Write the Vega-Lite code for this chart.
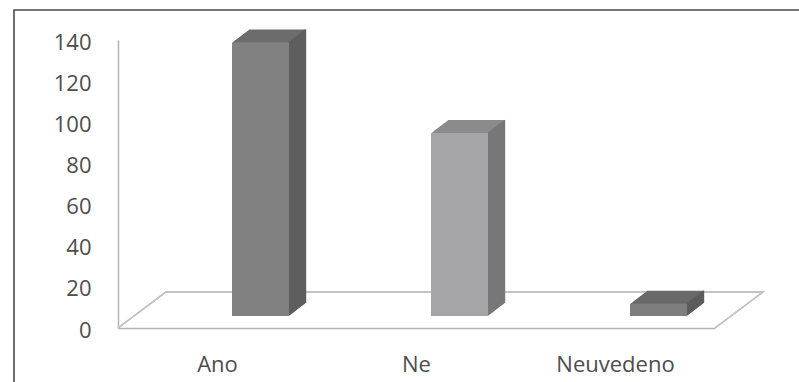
{
  "$schema": "https://vega.github.io/schema/vega-lite/v6.json",
  "width": 791,
  "height": 380,
  "autosize": {"type": "none"},
  "padding": {"left": 14, "top": 10, "right": -6, "bottom": -8},
  "background": "#ffffff",
  "config": {
    "view": {"stroke": "#4a4a4a", "strokeWidth": 1.6},
    "axis": {"labelFont": "Open Sans", "labelFontSize": 22, "labelColor": "#4d4d4d", "ticks": false, "grid": false, "domainColor": "#b4b4b4", "domainWidth": 1.5, "title": null}
  },
  "data": {"values": [
    {"cat": "Ano", "value": 133},
    {"cat": "Ne", "value": 89},
    {"cat": "Neuvedeno", "value": 6}
  ]},
  "encoding": {
    "x": {"field": "cat", "type": "nominal", "sort": null, "title": null,
      "scale": {"type": "band", "domain": ["Ano", "Ne", "Neuvedeno"], "range": [104, 701], "paddingInner": 0, "paddingOuter": 0},
      "axis": {"orient": "bottom", "offset": -62, "labelAngle": 0, "labelPadding": 26}},
    "y": {"field": "value", "type": "quantitative", "title": null,
      "scale": {"domain": [0, 140], "range": [318, 30], "nice": false},
      "axis": {"orient": "left", "offset": -104, "labelPadding": 27, "labelOffset": 2, "values": [0, 20, 40, 60, 80, 100, 120, 140]}}
  },
  "layer": [
    {
      "mark": {"type": "point", "shape": "M0,0L2,-1.5L26.875,-1.5L24.875,0", "size": 2304, "filled": false, "stroke": "#c2c2c2", "strokeWidth": 1.4, "opacity": 1},
      "encoding": {
        "x": {"datum": "Ano", "bandPosition": 0},
        "y": {"datum": 0}
      }
    },
    {
      "encoding": {"color": {"field": "cat", "type": "nominal", "legend": null, "scale": {"domain": ["Ano", "Ne", "Neuvedeno"], "range": ["#6d6d6d", "#8b8b8b", "#6a6a6a"]}}},
      "layer": [
        {"mark": {"type": "bar", "width": 57, "xOffset": 60, "x2Offset": 60, "yOffset": -25, "y2Offset": -25}},
        {"mark": {"type": "bar", "width": 57, "xOffset": 59, "x2Offset": 59, "yOffset": -24.24, "y2Offset": -24.24}},
        {"mark": {"type": "bar", "width": 57, "xOffset": 58, "x2Offset": 58, "yOffset": -23.47, "y2Offset": -23.47}},
        {"mark": {"type": "bar", "width": 57, "xOffset": 57, "x2Offset": 57, "yOffset": -22.71, "y2Offset": -22.71}},
        {"mark": {"type": "bar", "width": 57, "xOffset": 56, "x2Offset": 56, "yOffset": -21.94, "y2Offset": -21.94}},
        {"mark": {"type": "bar", "width": 57, "xOffset": 55, "x2Offset": 55, "yOffset": -21.18, "y2Offset": -21.18}},
        {"mark": {"type": "bar", "width": 57, "xOffset": 54, "x2Offset": 54, "yOffset": -20.41, "y2Offset": -20.41}},
        {"mark": {"type": "bar", "width": 57, "xOffset": 53, "x2Offset": 53, "yOffset": -19.65, "y2Offset": -19.65}},
        {"mark": {"type": "bar", "width": 57, "xOffset": 52, "x2Offset": 52, "yOffset": -18.88, "y2Offset": -18.88}},
        {"mark": {"type": "bar", "width": 57, "xOffset": 51, "x2Offset": 51, "yOffset": -18.12, "y2Offset": -18.12}},
        {"mark": {"type": "bar", "width": 57, "xOffset": 50, "x2Offset": 50, "yOffset": -17.35, "y2Offset": -17.35}},
        {"mark": {"type": "bar", "width": 57, "xOffset": 49, "x2Offset": 49, "yOffset": -16.59, "y2Offset": -16.59}},
        {"mark": {"type": "bar", "width": 57, "xOffset": 48, "x2Offset": 48, "yOffset": -15.82, "y2Offset": -15.82}},
        {"mark": {"type": "bar", "width": 57, "xOffset": 47, "x2Offset": 47, "yOffset": -15.06, "y2Offset": -15.06}},
        {"mark": {"type": "bar", "width": 57, "xOffset": 46, "x2Offset": 46, "yOffset": -14.29, "y2Offset": -14.29}},
        {"mark": {"type": "bar", "width": 57, "xOffset": 45, "x2Offset": 45, "yOffset": -13.53, "y2Offset": -13.53}},
        {"mark": {"type": "bar", "width": 57, "xOffset": 44, "x2Offset": 44, "yOffset": -12.76, "y2Offset": -12.76}}
      ]
    },
    {
      "encoding": {"color": {"field": "cat", "type": "nominal", "legend": null, "scale": {"domain": ["Ano", "Ne", "Neuvedeno"], "range": ["#5e5e5e", "#787878", "#5c5c5c"]}}},
      "layer": [
        {"mark": {"type": "bar", "width": 1.4, "xOffset": 88, "x2Offset": 88, "yOffset": -25, "y2Offset": -25}},
        {"mark": {"type": "bar", "width": 1.4, "xOffset": 87, "x2Offset": 87, "yOffset": -24.24, "y2Offset": -24.24}},
        {"mark": {"type": "bar", "width": 1.4, "xOffset": 86, "x2Offset": 86, "yOffset": -23.47, "y2Offset": -23.47}},
        {"mark": {"type": "bar", "width": 1.4, "xOffset": 85, "x2Offset": 85, "yOffset": -22.71, "y2Offset": -22.71}},
        {"mark": {"type": "bar", "width": 1.4, "xOffset": 84, "x2Offset": 84, "yOffset": -21.94, "y2Offset": -21.94}},
        {"mark": {"type": "bar", "width": 1.4, "xOffset": 83, "x2Offset": 83, "yOffset": -21.18, "y2Offset": -21.18}},
        {"mark": {"type": "bar", "width": 1.4, "xOffset": 82, "x2Offset": 82, "yOffset": -20.41, "y2Offset": -20.41}},
        {"mark": {"type": "bar", "width": 1.4, "xOffset": 81, "x2Offset": 81, "yOffset": -19.65, "y2Offset": -19.65}},
        {"mark": {"type": "bar", "width": 1.4, "xOffset": 80, "x2Offset": 80, "yOffset": -18.88, "y2Offset": -18.88}},
        {"mark": {"type": "bar", "width": 1.4, "xOffset": 79, "x2Offset": 79, "yOffset": -18.12, "y2Offset": -18.12}},
        {"mark": {"type": "bar", "width": 1.4, "xOffset": 78, "x2Offset": 78, "yOffset": -17.35, "y2Offset": -17.35}},
        {"mark": {"type": "bar", "width": 1.4, "xOffset": 77, "x2Offset": 77, "yOffset": -16.59, "y2Offset": -16.59}},
        {"mark": {"type": "bar", "width": 1.4, "xOffset": 76, "x2Offset": 76, "yOffset": -15.82, "y2Offset": -15.82}},
        {"mark": {"type": "bar", "width": 1.4, "xOffset": 75, "x2Offset": 75, "yOffset": -15.06, "y2Offset": -15.06}},
        {"mark": {"type": "bar", "width": 1.4, "xOffset": 74, "x2Offset": 74, "yOffset": -14.29, "y2Offset": -14.29}},
        {"mark": {"type": "bar", "width": 1.4, "xOffset": 73, "x2Offset": 73, "yOffset": -13.53, "y2Offset": -13.53}},
        {"mark": {"type": "bar", "width": 1.4, "xOffset": 72, "x2Offset": 72, "yOffset": -12.76, "y2Offset": -12.76}}
      ]
    },
    {
      "mark": {"type": "bar", "width": 57, "xOffset": 43, "x2Offset": 43, "yOffset": -12, "y2Offset": -12},
      "encoding": {"color": {"field": "cat", "type": "nominal", "legend": null, "scale": {"domain": ["Ano", "Ne", "Neuvedeno"], "range": ["#818182", "#a5a5a7", "#7e7e7e"]}}}
    }
  ],
  "resolve": {"scale": {"color": "independent"}}
}
